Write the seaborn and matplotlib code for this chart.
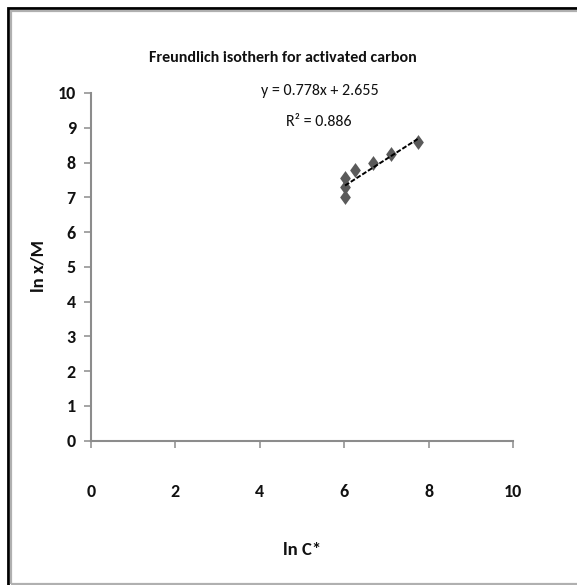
import numpy as np
import pandas as pd
import matplotlib
matplotlib.use("Agg")
import matplotlib.pyplot as plt
from matplotlib.patches import Rectangle
import seaborn as sns

# Freundlich isotherm data: ln C* vs ln x/M
ln_c = [6.02, 6.02, 6.02, 6.25, 6.69, 7.10, 7.74]
ln_xm = [7.02, 7.30, 7.55, 7.78, 7.98, 8.25, 8.58]
slope = 0.778
intercept = 2.655
r_squared = 0.886
x_ticks = [0, 2, 4, 6, 8, 10]
y_ticks = [0, 1, 2, 3, 4, 5, 6, 7, 8, 9, 10]

sns.set_theme(style="white")
plt.rcParams["font.family"] = ["Carlito", "DejaVu Sans"]

W, H = 577, 585
fig = plt.figure(figsize=(W / 100, H / 100), dpi=100)
ax = fig.add_axes([91 / W, (H - 440.7) / H, 422 / W, 347.7 / H])

# Tall diamond marker
diamond = [(0, 1), (0.72, 0), (0, -1), (-0.72, 0), (0, 1)]

df = pd.DataFrame({"ln C*": ln_c, "ln x/M": ln_xm})
sns.scatterplot(data=df, x="ln C*", y="ln x/M", ax=ax, marker=diamond, s=115,
                color="#5a5a5a", edgecolor="#5a5a5a", linewidth=0, zorder=3)

# Linear trendline from the stated equation
fit_x = np.array([min(ln_c), max(ln_c)])
fit_df = pd.DataFrame({"x": fit_x, "y": slope * fit_x + intercept})
sns.lineplot(data=fit_df, x="x", y="y", ax=ax, color="black", linewidth=1.4,
             linestyle=(0, (2.5, 1)), zorder=4)

ax.set_xlim(0, 10)
ax.set_ylim(0, 10)
ax.set_xticks(x_ticks)
ax.set_yticks(y_ticks)
ax.set_xticklabels([str(t) for t in x_ticks], fontsize=13, fontweight="bold")
ax.set_yticklabels([str(t) for t in y_ticks], fontsize=13, fontweight="bold")
for s in ["top", "right"]:
    ax.spines[s].set_visible(False)
for s in ["left", "bottom"]:
    ax.spines[s].set_color("#8c8c8c")
    ax.spines[s].set_linewidth(1.5)
ax.tick_params(axis="both", which="major", length=5, width=1.1, color="#8c8c8c",
               direction="out", bottom=True, left=True, labelcolor="#111111")
ax.tick_params(axis="x", pad=26)
ax.tick_params(axis="y", pad=6)

ax.set_xlabel("ln C*", fontsize=13.5, fontweight="bold", color="#111111")
ax.set_ylabel("ln x/M", fontsize=13.5, fontweight="bold", color="#111111")
ax.xaxis.set_label_coords((302 - 91) / 422, (440.7 - 550) / 347.7)
ax.yaxis.set_label_coords((38 - 91) / 422, (440.7 - 266) / 347.7)
ax.xaxis.label.set_va("center")
ax.yaxis.label.set_va("center")

fig.text(283 / W, 1 - 58 / H, "Freundlich isotherh for activated carbon",
         ha="center", va="center", fontsize=11.5, fontweight="bold", color="#111111")
fig.text(320 / W, 1 - 91 / H, f"y = {slope}x + {intercept}", ha="center", va="center",
         fontsize=11.5, color="#111111")
fig.text(319 / W, 1 - 122 / H, f"R² = {r_squared}", ha="center", va="center",
         fontsize=11.5, color="#111111")

# Chart frame
fig.add_artist(Rectangle((7.8 / W, -0.1), 1.2, 1 - 7.8 / H + 0.1, transform=fig.transFigure,
                         fill=False, edgecolor="black", linewidth=2.0))
fig.add_artist(Rectangle((11.2 / W, 1.5 / H), 1.2, 1 - 12.7 / H, transform=fig.transFigure,
                         fill=False, edgecolor="#b0b0b0", linewidth=1.6))

fig.savefig("out.png", dpi=100)
